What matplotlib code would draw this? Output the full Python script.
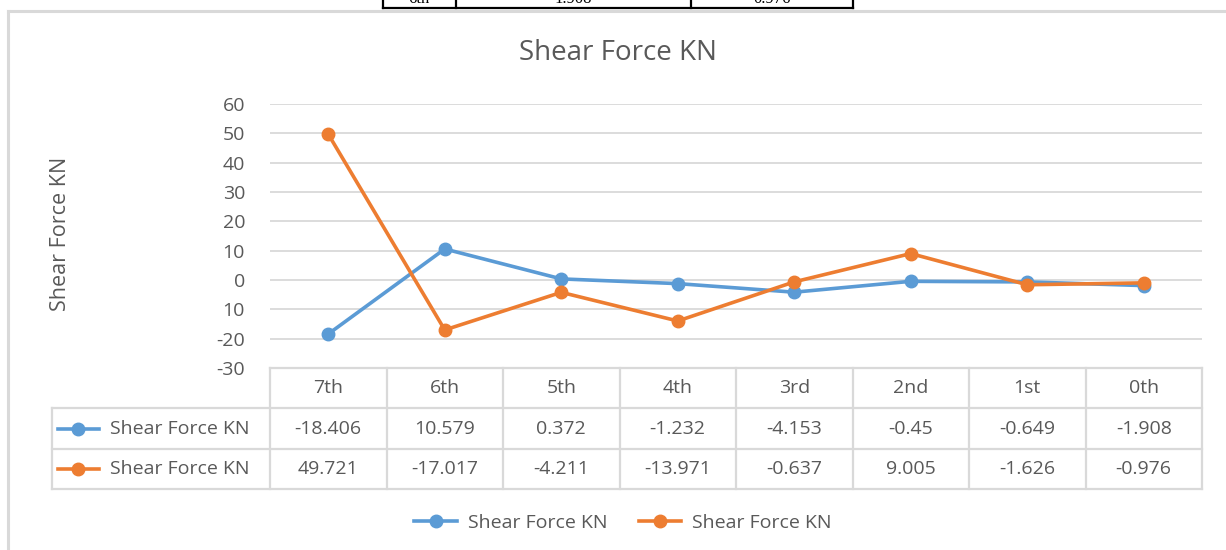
import matplotlib.pyplot as plt
from matplotlib.lines import Line2D

# data
floors = ['7th', '6th', '5th', '4th', '3rd', '2nd', '1st', '0th']
shear_a = [-18.406, 10.579, 0.372, -1.232, -4.153, -0.45, -0.649, -1.908]
shear_b = [49.721, -17.017, -4.211, -13.971, -0.637, 9.005, -1.626, -0.976]
yticks = [60, 50, 40, 30, 20, 10, 0, -10, -20, -30]
ytick_labels = ['60', '50', '40', '30', '20', '10', '0', '10', '-20', '-30']
series_name = 'Shear Force KN'
top_cells = ['6th', '1.908', '0.976']

blue = '#5b9bd5'
orange = '#ed7d31'
grid = '#d9d9d9'
txt = '#595959'
font = 'Open Sans'
fs = 14

W, H = 1226, 550
fig = plt.figure(figsize=(W / 100, H / 100), dpi=100)


def px(x0, y0, x1, y1):
    # pixel box (top-left origin) -> figure fraction
    return [x0 / W, 1 - y1 / H, (x1 - x0) / W, (y1 - y0) / H]


# page background: cut-off table above the chart and the chart frame
bg = fig.add_axes([0, 0, 1, 1])
bg.set_xlim(0, W)
bg.set_ylim(H, 0)
bg.axis('off')
bg.plot([383, 853], [8, 8], color='black', lw=1.6)
for xv in [383, 456, 691, 853]:
    bg.plot([xv, xv], [-2, 8], color='black', lw=1.6)
for xc, s in zip([419, 573, 772], top_cells):
    bg.text(xc, -1, s, ha='center', va='center', fontsize=12,
            family='Liberation Serif', color='black')
bg.plot([8, W], [10.5, 10.5], color=grid, lw=2.2)
bg.plot([8, 8], [10.5, H], color=grid, lw=2.2)

# main plot area
ax = fig.add_axes(px(270, 104, 1202, 368))
x = list(range(len(floors)))
ax.plot(x, shear_a, color=blue, lw=2.6, marker='o', ms=9, zorder=3)
ax.plot(x, shear_b, color=orange, lw=2.6, marker='o', ms=9, zorder=4)
ax.set_xlim(-0.5, len(floors) - 0.5)
ax.set_ylim(-30, 60)
ax.set_yticks(yticks)
ax.set_yticklabels(ytick_labels)
ax.set_xticks([])
ax.grid(axis='y', color=grid, lw=1.3)
ax.set_axisbelow(True)
for s in ax.spines.values():
    s.set_visible(False)
ax.tick_params(axis='y', length=0, pad=18, labelsize=fs, labelcolor=txt)
for lab in ax.get_yticklabels():
    lab.set_family(font)
fig.text(60 / W, 1 - 234 / H, series_name, rotation=90, ha='center', va='center',
         fontsize=15.5, color=txt, family=font)
fig.text(618 / W, 1 - 53 / H, series_name, ha='center', va='center',
         fontsize=20, color=txt, family=font)

# data table below the plot
tab = fig.add_axes(px(270, 368, 1202, 489))
tab.set_xlim(-0.5, len(floors) - 0.5)
tab.set_ylim(3, 0)
tab.axis('off')
left = -0.5 - 218 / 116.5
kw = dict(color=grid, lw=1.6, clip_on=False)
tab.plot([-0.5, 7.5], [0, 0], **kw)
for yv in [1, 2, 3]:
    tab.plot([left, 7.5], [yv, yv], **kw)
tab.plot([left, left], [1, 3], **kw)
for xv in [i - 0.5 for i in range(len(floors) + 1)]:
    tab.plot([xv, xv], [0, 3], **kw)
for i, f in enumerate(floors):
    tab.text(i, 0.5, f, ha='center', va='center', fontsize=fs, color=txt, family=font)
    tab.text(i, 1.5, f'{shear_a[i]:g}', ha='center', va='center', fontsize=fs,
             color=txt, family=font)
    tab.text(i, 2.5, f'{shear_b[i]:g}', ha='center', va='center', fontsize=fs,
             color=txt, family=font)
for row, c in [(1.5, blue), (2.5, orange)]:
    tab.plot([left + 0.05, left + 0.4], [row, row], color=c, lw=2.6, clip_on=False)
    tab.plot([left + 0.225], [row], 'o', color=c, ms=9, clip_on=False)
    tab.text(left + 0.5, row, series_name, ha='left', va='center', fontsize=fs,
             color=txt, family=font, clip_on=False)

# legend
handles = [Line2D([], [], color=c, lw=2.6, marker='o', ms=9) for c in (blue, orange)]
fig.legend(handles, [series_name, series_name], loc='center', ncol=2,
           bbox_to_anchor=(623 / W, 1 - 523 / H), frameon=False,
           prop={'family': font, 'size': fs}, labelcolor=txt,
           handlelength=2.2, handletextpad=0.55, columnspacing=1.6)

fig.savefig('out.png', dpi=100)
